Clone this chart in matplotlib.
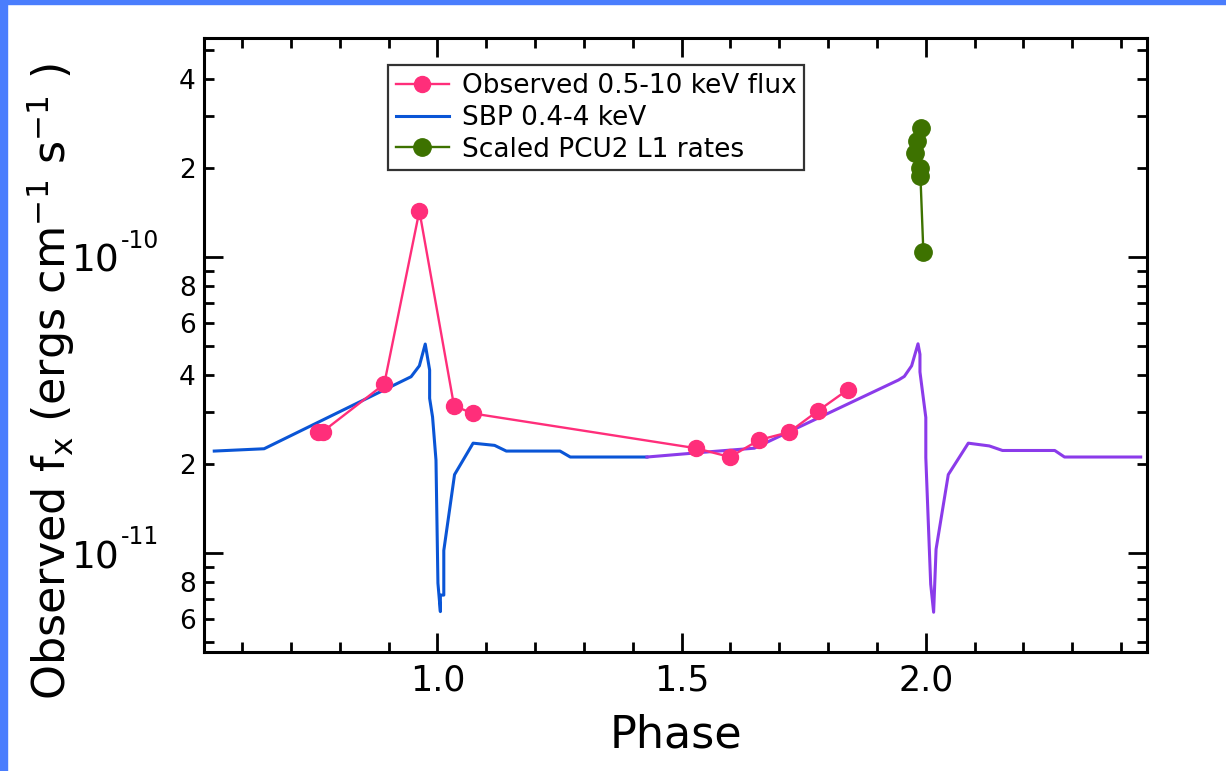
import matplotlib
matplotlib.use("Agg")
import matplotlib.pyplot as plt
from matplotlib.patches import Rectangle
from matplotlib.ticker import FixedLocator, FuncFormatter, NullFormatter
import numpy as np

# observed 0.5-10 keV flux
obs_phase = [0.755, 0.765, 0.891, 0.963, 1.034, 1.073, 1.529, 1.599, 1.659, 1.720, 1.779, 1.840]
obs_flux = [2.57e-11, 2.57e-11, 3.72e-11, 1.43e-10, 3.14e-11, 2.96e-11,
            2.26e-11, 2.11e-11, 2.41e-11, 2.56e-11, 3.02e-11, 3.56e-11]

# SBP 0.4-4 keV model, first cycle (blue)
sbp_phase = [0.543, 0.645, 0.946, 0.963, 0.975, 0.984, 0.984, 0.990, 0.997, 1.001,
             1.006, 1.006, 1.013, 1.013, 1.035, 1.073, 1.117, 1.141, 1.251, 1.272, 1.429]
sbp_flux = [2.21e-11, 2.25e-11, 3.94e-11, 4.29e-11, 5.08e-11, 4.15e-11, 3.33e-11, 2.88e-11,
            2.06e-11, 7.91e-12, 6.34e-12, 7.21e-12, 7.21e-12, 1.02e-11, 1.84e-11, 2.35e-11,
            2.31e-11, 2.21e-11, 2.21e-11, 2.11e-11, 2.11e-11]

# SBP 0.4-4 keV model, second cycle (purple)
sbp2_phase = [1.429, 1.560, 1.649, 1.944, 1.956, 1.971, 1.984, 1.988, 1.988, 2.000, 2.000,
              2.005, 2.010, 2.016, 2.021, 2.046, 2.087, 2.130, 2.157, 2.264, 2.284, 2.440]
sbp2_flux = [2.11e-11, 2.20e-11, 2.26e-11, 3.84e-11, 3.95e-11, 4.29e-11, 5.09e-11, 4.69e-11,
             4.09e-11, 2.87e-11, 2.10e-11, 1.28e-11, 7.85e-12, 6.31e-12, 1.03e-11, 1.84e-11,
             2.35e-11, 2.30e-11, 2.22e-11, 2.22e-11, 2.11e-11, 2.11e-11]

# scaled PCU2 L1 rates
pcu_phase = [1.990, 1.981, 1.978, 1.989, 1.989, 1.995]
pcu_flux = [2.72e-10, 2.46e-10, 2.25e-10, 2.00e-10, 1.87e-10, 1.04e-10]

# decade labels on the y axis
decades = [1e-11, 1e-10]
decade_exp = ["-11", "-10"]

pink = "#ff2e7a"
blue = "#0a55d6"
purple = "#8b3bea"
green = "#3d7200"

fig = plt.figure(figsize=(12.26, 7.71), dpi=100)
ax = fig.add_axes([0.1664, 0.1543, 0.7692, 0.7964])

ax.plot(sbp_phase, sbp_flux, color=blue, lw=2.2, label="SBP 0.4-4 keV", zorder=2)
ax.plot(sbp2_phase, sbp2_flux, color=purple, lw=2.2, zorder=2)
ax.plot(obs_phase, obs_flux, color=pink, lw=1.7, marker="o", ms=11.5,
        label="Observed 0.5-10 keV flux", zorder=3)
ax.plot(pcu_phase, pcu_flux, color=green, lw=1.7, marker="o", ms=12.5,
        label="Scaled PCU2 L1 rates", zorder=3)

ax.set_yscale("log")
ax.set_xlim(0.522, 2.453)
ax.set_ylim(4.63e-12, 5.49e-10)

ax.set_xticks([1.0, 1.5, 2.0])
ax.set_xticks(np.arange(0.6, 2.45, 0.1), minor=True)
ax.xaxis.set_major_formatter(FuncFormatter(lambda v, p: "%.1f" % v))

ax.yaxis.set_major_locator(FixedLocator([1e-12, 1e-11, 1e-10]))
ax.yaxis.set_minor_locator(FixedLocator([k * 10.0 ** e for e in (-12, -11, -10) for k in range(2, 10)]))

def minor_fmt(v, pos):
    e = np.floor(np.log10(v) + 1e-9)
    d = int(round(v / 10 ** e))
    return str(d) if d in (2, 4, 6, 8) else ""

ax.yaxis.set_major_formatter(NullFormatter())
ax.yaxis.set_minor_formatter(FuncFormatter(minor_fmt))

# big "10" with a small exponent, as in the original
ytr = ax.get_yaxis_transform()
for v, ex in zip(decades, decade_exp):
    ax.annotate("10", xy=(0, v), xycoords=ytr, xytext=(-84, -5), textcoords="offset pixels",
                ha="right", va="center", fontsize=27)
    ax.annotate(ex, xy=(0, v), xycoords=ytr, xytext=(-83, 16), textcoords="offset pixels",
                ha="left", va="center", fontsize=17)

ax.tick_params(which="both", direction="in", top=True, right=True, width=2, colors="black")
ax.tick_params(which="major", length=14)
ax.tick_params(which="minor", length=7)
ax.tick_params(axis="x", which="both", labelsize=25, pad=8)
ax.tick_params(axis="y", which="minor", labelsize=19, pad=6)
for s in ax.spines.values():
    s.set_linewidth(2.2)

ax.set_xlabel("Phase", fontsize=32, labelpad=12)
ax.set_ylabel(r"Observed f$_\mathregular{x}$ (ergs cm$^\mathregular{-1}$ s$^\mathregular{-1}$ )", fontsize=32)
ax.yaxis.set_label_coords(-0.135, 0.441)

h, l = ax.get_legend_handles_labels()
order = [1, 0, 2]
leg = ax.legend([h[i] for i in order], [l[i] for i in order], loc="upper left",
                bbox_to_anchor=(0.195, 0.956), fontsize=19, frameon=True, fancybox=False,
                handlelength=2.0, borderpad=0.3, labelspacing=0.22, handletextpad=0.5,
                borderaxespad=0)
leg.get_frame().set_edgecolor("black")
leg.get_frame().set_linewidth(1.6)

# blue slide border
fig.patches.append(Rectangle((0, 0), 7 / 1226, 1, transform=fig.transFigure, color="#4a7dfd", zorder=0))
fig.patches.append(Rectangle((0, 1 - 4 / 771), 1, 4 / 771, transform=fig.transFigure, color="#4a7dfd", zorder=0))

fig.savefig("out.png", dpi=100)
